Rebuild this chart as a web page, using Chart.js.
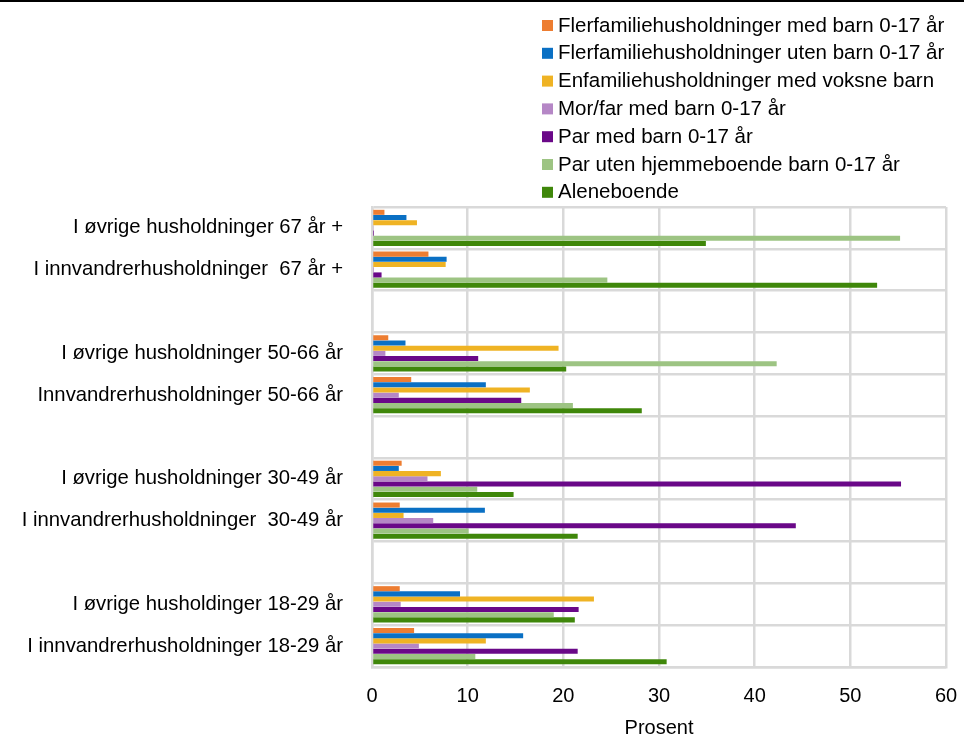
<!DOCTYPE html>
<html lang="no">
<head>
  <meta charset="utf-8">
  <title>Husholdningstyper etter alder</title>
  <script src="https://cdn.jsdelivr.net/npm/chart.js@4.4.1/dist/chart.umd.min.js"></script>
  <style>
    html, body { margin: 0; padding: 0; background: #fff; }
    #wrap { position: relative; width: 964px; height: 737px; }
  </style>
</head>
<body>
<div id="wrap"><canvas id="chart" width="964" height="737"></canvas></div>
<script>
  // categories, top to bottom ('' = empty spacer row)
  const categories = [
    'I øvrige husholdninger 67 år +',
    'I innvandrerhusholdninger  67 år +',
    '',
    'I øvrige husholdninger 50-66 år',
    'Innvandrerhusholdninger 50-66 år',
    '',
    'I øvrige husholdninger 30-49 år',
    'I innvandrerhusholdninger  30-49 år',
    '',
    'I øvrige husholdinger 18-29 år',
    'I innvandrerhusholdninger 18-29 år'
  ];

  const seriesNames = [
    'Flerfamiliehusholdninger med barn 0-17 år',
    'Flerfamiliehusholdninger uten barn 0-17 år',
    'Enfamiliehusholdninger med voksne barn',
    'Mor/far med barn 0-17 år',
    'Par med barn 0-17 år',
    'Par uten hjemmeboende barn 0-17 år',
    'Aleneboende'
  ];

  // percent values per series
  const flerMed     = [1.3, 5.9, null, 1.7, 4.1, null, 3.1, 2.9, null, 2.9, 4.4];
  const flerUten    = [3.6, 7.8, null, 3.5, 11.9, null, 2.8, 11.8, null, 9.2, 15.8];
  const enfamVoksne = [4.7, 7.7, null, 19.5, 16.5, null, 7.2, 3.3, null, 23.2, 11.9];
  const morFar      = [0.1, 0.2, null, 1.4, 2.8, null, 5.8, 6.4, null, 3.0, 4.9];
  const parMed      = [0.2, 1.0, null, 11.1, 15.6, null, 55.3, 44.3, null, 21.6, 21.5];
  const parUten     = [55.2, 24.6, null, 42.3, 21.0, null, 11.0, 10.1, null, 19.0, 10.8];
  const alene       = [34.9, 52.8, null, 20.3, 28.2, null, 14.8, 21.5, null, 21.2, 30.8];

  const xTicks = [0, 10, 20, 30, 40, 50, 60];

  const COLORS = ['#ED7D31', '#0A70C4', '#EFB324', '#B587C6', '#6A0888', '#9DC483', '#3F870A'];
  const allSeries = [flerMed, flerUten, enfamVoksne, morFar, parMed, parUten, alene];

  const FONT = "'Liberation Sans', Arial, sans-serif";
  const GRID = '#D9D9D9';

  // legend as one column, top right, plus the black line along the top
  const sideLegend = {
    id: 'sideLegend',
    afterDraw(chart) {
      const ctx = chart.ctx;
      ctx.save();
      ctx.fillStyle = '#000';
      ctx.fillRect(0, 0, chart.width, 2);
      ctx.font = '20.5px ' + FONT;
      ctx.textBaseline = 'middle';
      chart.data.datasets.forEach(function(ds, i) {
        const y = 25 + i * 27.8;
        ctx.fillStyle = ds.backgroundColor;
        ctx.fillRect(542, y - 5, 11, 11);
        ctx.fillStyle = '#000';
        ctx.fillText(ds.label, 558, y + 1);
      });
      ctx.restore();
    }
  };

  new Chart(document.getElementById('chart'), {
    type: 'bar',
    data: {
      labels: categories,
      datasets: seriesNames.map(function(name, i) {
        return {
          label: name,
          data: allSeries[i],
          backgroundColor: COLORS[i],
          borderWidth: 0,
          categoryPercentage: 0.87,
          barPercentage: 0.97
        };
      })
    },
    options: {
      indexAxis: 'y',
      responsive: false,
      animation: false,
      layout: { padding: { top: 207, right: 18, bottom: 0, left: 0 } },
      plugins: {
        legend: { display: false },
        tooltip: { enabled: false }
      },
      scales: {
        x: {
          min: 0,
          max: 60,
          afterBuildTicks: function(scale) {
            scale.ticks = xTicks.map(function(v) { return { value: v }; });
          },
          afterFit: function(scale) { scale.paddingLeft = 0; scale.paddingRight = 0; },
          grid: { color: GRID, lineWidth: 2.5, drawTicks: false },
          border: { color: GRID, width: 2.5 },
          ticks: { color: '#000', padding: 17, font: { family: FONT, size: 20 } },
          title: {
            display: true,
            text: 'Prosent',
            color: '#000',
            padding: { top: -9, bottom: -3 },
            font: { family: FONT, size: 20 }
          }
        },
        y: {
          afterFit: function(scale) {
            scale.width = 372;
            scale.paddingTop = 0;
            scale.paddingBottom = 0;
          },
          grid: { color: GRID, lineWidth: 2.5, drawTicks: false },
          border: { color: GRID, width: 2.5 },
          ticks: { color: '#000', padding: 29, autoSkip: false, font: { family: FONT, size: 20.3 } }
        }
      }
    },
    plugins: [sideLegend]
  });
</script>
</body>
</html>
